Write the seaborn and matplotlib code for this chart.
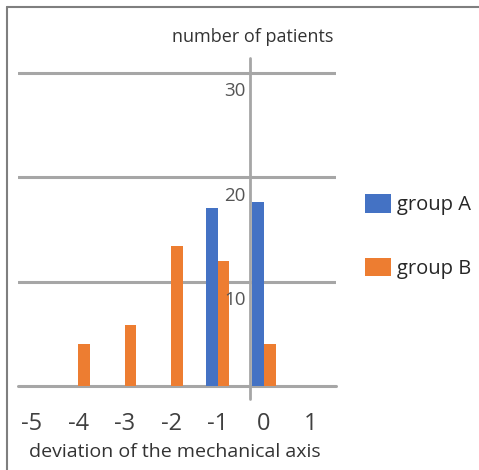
import matplotlib
matplotlib.use("Agg")
import matplotlib.pyplot as plt
import seaborn as sns
import pandas as pd
from matplotlib.lines import Line2D

# ---- data ----
deviation = ["-5", "-4", "-3", "-2", "-1", "0", "1"]
group_a = [0, 0, 0, 0, 17, 17.6, 0]
group_b = [0, 4, 5.8, 13.4, 12, 4, 0]
groups = ["group A", "group B"]
colors = ["#4472C4", "#ED7D31"]
grid_values = [10, 20, 30]
y_labels = ["10", "20", "30"]

rows = []
for d, a, b in zip(deviation, group_a, group_b):
    rows.append({"deviation": d, "patients": a, "group": groups[0]})
    rows.append({"deviation": d, "patients": b, "group": groups[1]})
df = pd.DataFrame(rows)

sns.set_theme(style="white")
plt.rcParams["font.family"] = ["Open Sans", "DejaVu Sans"]

W, H = 479, 470
fig = plt.figure(figsize=(W / 100, H / 100), dpi=100)
fig.patch.set_facecolor("white")
ax = fig.add_axes([18 / W, (H - 386) / H, 318 / W, 328 / H])

sns.barplot(data=df, x="deviation", y="patients", hue="group",
            order=deviation, hue_order=groups, palette=colors,
            width=0.5, saturation=1, errorbar=None, linewidth=0, ax=ax)

ax.set_xlim(-0.3, 6.55)
ax.set_ylim(0, 31.4)
for s in ax.spines.values():
    s.set_visible(False)

gc = "#a6a6a6"
ax.set_yticks(grid_values)
ax.set_yticklabels([])
ax.tick_params(axis="y", length=0)
ax.grid(axis="y", color=gc, lw=2.2)
ax.set_axisbelow(True)
ax.axhline(0, color=gc, lw=2.2, clip_on=False, zorder=0.5)
ax.axvline(4.7, ymin=-1.2 / 31.4, ymax=1, color=gc, lw=2, clip_on=False, zorder=0.5)

ax.set_xticks([i + 0.5 for i in range(6)] + [6.35], minor=True)
ax.tick_params(axis="x", which="minor", length=7, width=2, color=gc, direction="out")
ax.tick_params(axis="x", which="major", length=0, pad=19, labelsize=17, labelcolor="#404040")
ax.set_xlabel("")
ax.set_ylabel("")

for v, lab in zip(grid_values, y_labels):
    ax.text(4.6, v - 1.8, lab, ha="right", va="center", fontsize=13.5, color="#555555")

fig.text(333 / W, 1 - 37 / H, "number of patients", ha="right", va="center",
         fontsize=13, color="#333333")
fig.text(175 / W, 1 - 452 / H, "deviation of the mechanical axis", ha="center",
         va="center", fontsize=14, color="#333333")

sns.move_legend(ax, "upper left", bbox_to_anchor=(365 / W, 1 - 194 / H),
                bbox_transform=fig.transFigure, frameon=False, title=None,
                fontsize=14.5, handlelength=1.3, handleheight=1.05,
                handletextpad=0.3, labelspacing=2.1, borderpad=0, borderaxespad=0)

fig.add_artist(Line2D([7 / W, 7 / W], [0, 1 - 7 / H], transform=fig.transFigure,
                      color="#7f7f7f", lw=1.5))
fig.add_artist(Line2D([7 / W, 1], [1 - 7 / H, 1 - 7 / H], transform=fig.transFigure,
                      color="#7f7f7f", lw=1.5))

fig.savefig("out.png", dpi=100)
